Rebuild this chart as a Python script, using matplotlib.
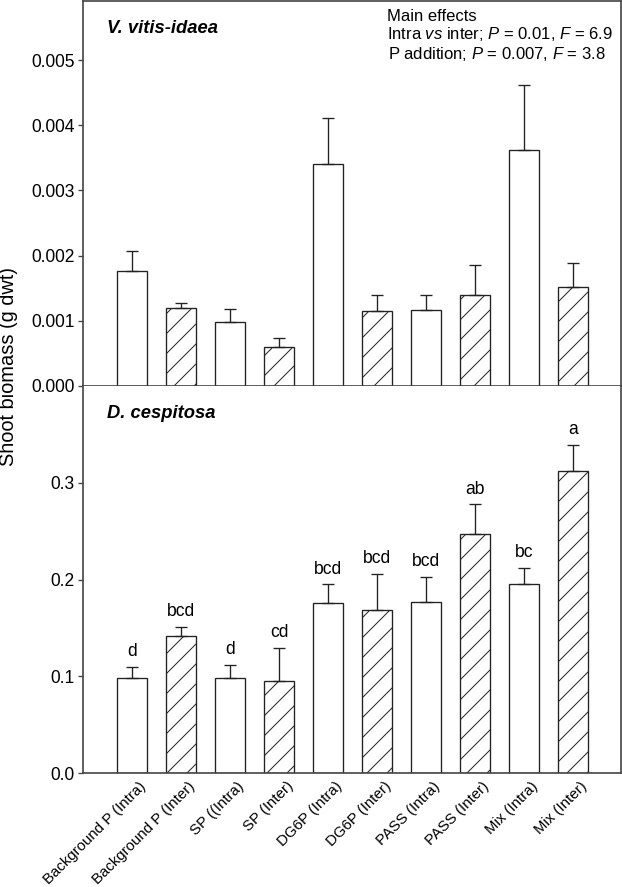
import numpy as np
import matplotlib
matplotlib.use('Agg')
import matplotlib.pyplot as plt
from matplotlib.transforms import ScaledTranslation

plt.rcParams['font.family'] = ['Liberation Sans', 'DejaVu Sans']
plt.rcParams['mathtext.fontset'] = 'custom'
plt.rcParams['mathtext.rm'] = 'Liberation Sans'
plt.rcParams['mathtext.it'] = 'Liberation Sans:italic'
plt.rcParams['hatch.linewidth'] = 0.6

labels = ['Background P (Intra)', 'Background P (Inter)', 'SP ((Intra)', 'SP (Inter)',
          'DG6P (Intra)', 'DG6P (Inter)', 'PASS (Intra)', 'PASS (Inter)',
          'Mix (Intra)', 'Mix (Inter)']
inter = [False, True, False, True, False, True, False, True, False, True]

vitis = [0.00177, 0.00119, 0.00098, 0.00060, 0.00340, 0.00115, 0.00117, 0.00139, 0.00362, 0.00152]
vitis_top = [0.00207, 0.00128, 0.00118, 0.00073, 0.00411, 0.00139, 0.00139, 0.00185, 0.00461, 0.00188]

cesp = [0.0987, 0.1414, 0.0977, 0.0956, 0.1754, 0.1686, 0.1772, 0.2470, 0.1957, 0.3123]
cesp_top = [0.1097, 0.1514, 0.1118, 0.1293, 0.1950, 0.2057, 0.2026, 0.2776, 0.2119, 0.3392]
letters = ['d', 'bcd', 'd', 'cd', 'bcd', 'bcd', 'bcd', 'ab', 'bc', 'a']

x = np.arange(len(labels))
dpi = 120
fig = plt.figure(figsize=(622 / dpi, 887 / dpi), dpi=dpi)
left, right = 83 / 622, 621 / 622
y_mid = 1 - 386 / 887
y_bot = 1 - 773 / 887
ax0 = fig.add_axes([left, y_mid, right - left, 0.9985 - y_mid])
ax1 = fig.add_axes([left, y_bot, right - left, y_mid - y_bot])


def draw(ax, vals, tops):
    err = np.array(tops) - np.array(vals)
    for i in range(len(vals)):
        ax.bar(x[i], vals[i], width=0.6, color='white', edgecolor='#222222',
               linewidth=0.8, hatch='//' if inter[i] else None, zorder=2)
    ax.errorbar(x, vals, yerr=[np.zeros(len(vals)), err], fmt='none',
                ecolor='#222222', elinewidth=0.8, capsize=3.4, capthick=0.8, zorder=3)
    ax.set_xlim(-1.0, 9.98)
    for s in ax.spines.values():
        s.set_color('#444444')
        s.set_linewidth(1.0)
    ax.tick_params(axis='y', direction='out', length=3, width=0.8, color='#444444',
                   labelsize=10.5, pad=2)
    ax.tick_params(axis='x', length=0)


draw(ax0, vitis, vitis_top)
ax0.set_ylim(0, 0.0059)
ax0.set_yticks([0, 0.001, 0.002, 0.003, 0.004, 0.005])
ax0.set_yticklabels(['0.000', '0.001', '0.002', '0.003', '0.004', '0.005'])
ax0.set_xticks([])
ax0.text(0.045, 0.93, 'V. vitis-idaea', transform=ax0.transAxes, fontsize=11,
         fontweight='bold', fontstyle='italic', va='center')
ax0.text(0.565, 0.961, 'Main effects', transform=ax0.transAxes, fontsize=10, va='center')
ax0.text(0.565, 0.915, 'Intra $\\it{vs}$ inter; $\\it{P}$ = 0.01, $\\it{F}$ = 6.9',
         transform=ax0.transAxes, fontsize=10, va='center')
ax0.text(0.567, 0.862, 'P addition; $\\it{P}$ = 0.007, $\\it{F}$ = 3.8',
         transform=ax0.transAxes, fontsize=10, va='center')

draw(ax1, cesp, cesp_top)
ax1.set_ylim(0, 0.40)
ax1.set_yticks([0, 0.1, 0.2, 0.3])
ax1.set_yticklabels(['0.0', '0.1', '0.2', '0.3'])
ax1.spines['top'].set_visible(False)
ax1.set_xticks(x)
ax1.set_xticklabels(labels, rotation=45, ha='right', va='center', rotation_mode='anchor',
                    fontsize=9)
ax1.tick_params(axis='x', pad=6.5)
shift = ScaledTranslation(12 / dpi, 0, fig.dpi_scale_trans)
for lab in ax1.get_xticklabels():
    lab.set_transform(lab.get_transform() + shift)
ax1.text(0.045, 0.93, 'D. cespitosa', transform=ax1.transAxes, fontsize=11,
         fontweight='bold', fontstyle='italic', va='center')
for i in range(len(letters)):
    ax1.annotate(letters[i], (x[i], cesp_top[i]), xytext=(0, 4), textcoords='offset points',
                 ha='center', va='bottom', fontsize=10.5)

fig.text(0.014, 1 - 366 / 887, 'Shoot biomass (g dwt)', rotation=90, va='center',
         ha='center', fontsize=12)

plt.savefig('out.png', dpi=dpi)
